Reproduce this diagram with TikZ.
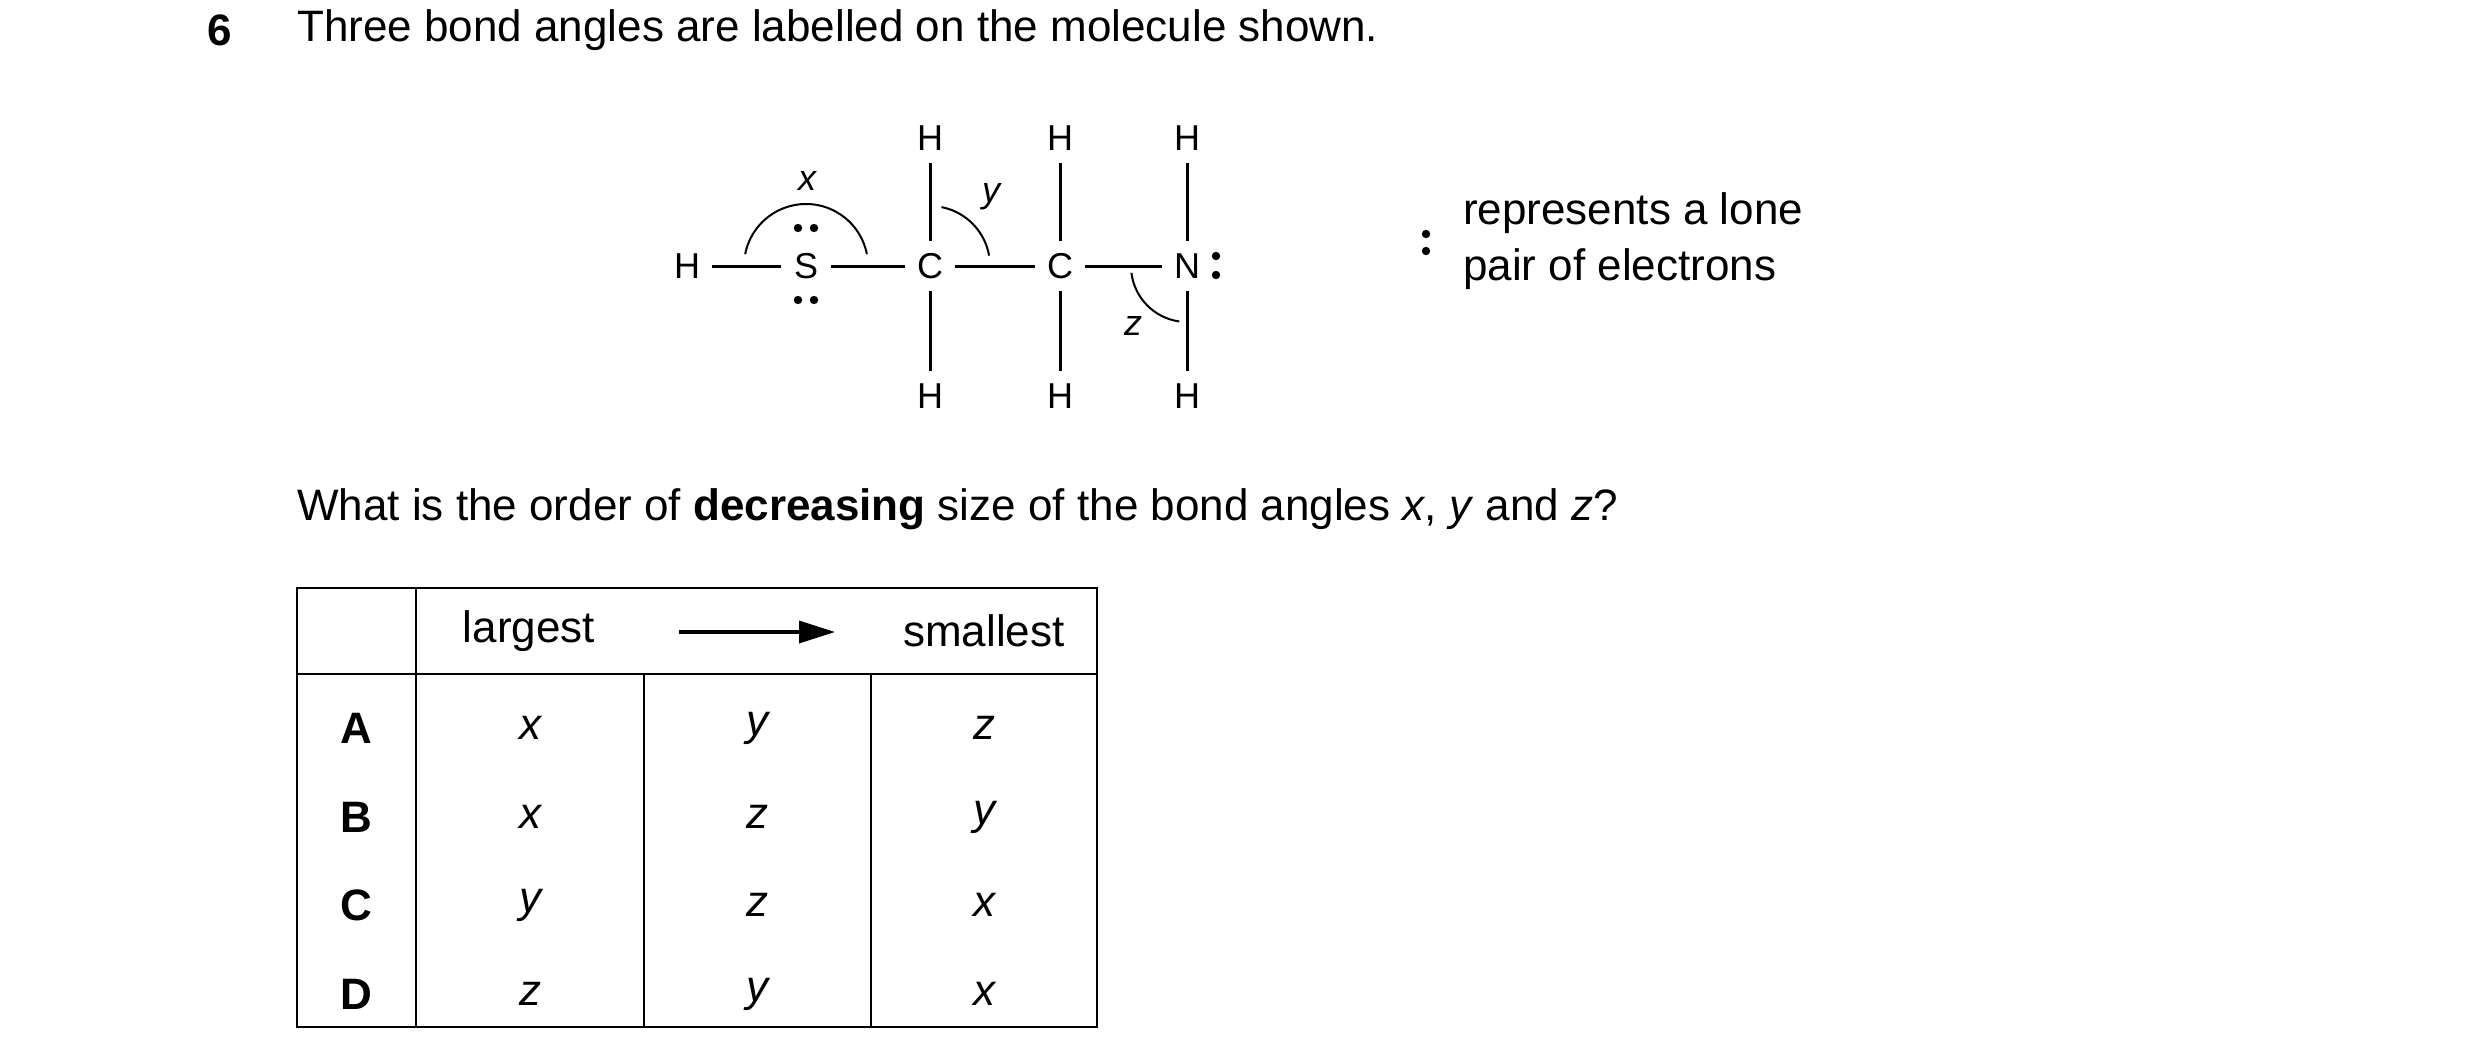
\documentclass[tikz,border=0pt]{standalone}
\usepackage{fontspec}
\setmainfont{Liberation Sans}
\usetikzlibrary{arrows.meta}
\begin{document}
\begin{tikzpicture}[x=1pt,y=-1pt,
  txt/.style={font=\fontsize{44}{52}\selectfont,inner sep=0pt},
  atom/.style={circle,minimum size=50pt,inner sep=0pt,font=\fontsize{36}{40}\selectfont},
  bond/.style={line width=3pt},
  ang/.style={line width=2pt},
  tab/.style={line width=2.2pt},
  dot/.style={fill=black,draw=none}]
\useasboundingbox (0,0) rectangle (2480,1063);
% title
\node[txt,font=\fontsize{44}{52}\selectfont\bfseries] (num) at (220,30) {6};
\node[txt,anchor=west] (title) at (297,30) {Three bond angles are labelled on the molecule shown.};
% molecule
\node[atom] (H0) at (687,266) {H};
\node[atom] (S) at (806,266) {S};
\node[atom] (C1) at (930,266) {C};
\node[atom] (C2) at (1060,266) {C};
\node[atom] (N) at (1187,266) {N};
\node[atom] (H1t) at (930,138) {H};
\node[atom] (H2t) at (1060,138) {H};
\node[atom] (H3t) at (1187,138) {H};
\node[atom] (H1b) at (930,396) {H};
\node[atom] (H2b) at (1060,396) {H};
\node[atom] (H3b) at (1187,396) {H};
\draw[bond] (H0) -- (S);
\draw[bond] (S) -- (C1);
\draw[bond] (C1) -- (C2);
\draw[bond] (C2) -- (N);
\draw[bond] (C1) -- (H1t);
\draw[bond] (C2) -- (H2t);
\draw[bond] (N) -- (H3t);
\draw[bond] (C1) -- (H1b);
\draw[bond] (C2) -- (H2b);
\draw[bond] (N) -- (H3b);
% lone pairs
\foreach \p in {(798,228),(814,228),(798,300),(814,300),(1216,256),(1216,275),(1426,234),(1426,251)}
  \fill[dot] \p circle (4.2);
% angle arcs
\draw[ang] ([shift={(-11:62)}]S.center) arc[start angle=-11,end angle=-169,radius=62];
\draw[ang] ([shift={(-10:60)}]C1.center) arc[start angle=-10,end angle=-79,radius=60];
\draw[ang] ([shift={(173:56)}]N.center) arc[start angle=173,end angle=98,radius=56];
\node[txt,font=\fontsize{36}{40}\selectfont\itshape] (lx) at (807,181) {x};
\node[txt,font=\fontsize{36}{40}\selectfont\itshape] (ly) at (991,197) {y};
\node[txt,font=\fontsize{36}{40}\selectfont\itshape] (lz) at (1133,326) {z};
% legend
\node[txt,anchor=west] (leg1) at (1463,213) {represents a lone};
\node[txt,anchor=west] (leg2) at (1463,269) {pair of electrons};
% question
\node[txt,anchor=west] (q) at (297,509) {What is the order of \textbf{decreasing} size of the bond angles \textit{x}, \textit{y} and \textit{z}?};
% table
\draw[tab] (297,588) rectangle (1097,1027);
\draw[tab] (297,674) -- (1097,674);
\draw[tab] (416,588) -- (416,1027);
\draw[tab] (644,674) -- (644,1027);
\draw[tab] (871,674) -- (871,1027);
\node[txt] (hl) at (529,631) {largest};
\node[txt] (hs) at (984,631) {smallest};
\coordinate (a1) at (679,632);
\coordinate (a2) at (835,632);
\draw[line width=3.5pt,-{Triangle[length=36pt,width=22pt]}] (a1) -- (a2);
\foreach \l/\a/\b/\c/\yy in {A/x/y/z/728,B/x/z/y/817,C/y/z/x/905,D/z/y/x/994}{
  \node[txt,font=\fontsize{44}{52}\selectfont\bfseries] (r\l) at (356,\yy) {\l};
  \node[txt,font=\fontsize{44}{52}\selectfont\itshape] (r\l1) at (530,\yy) {\vphantom{x}\a};
  \node[txt,font=\fontsize{44}{52}\selectfont\itshape] (r\l2) at (757,\yy) {\vphantom{x}\b};
  \node[txt,font=\fontsize{44}{52}\selectfont\itshape] (r\l3) at (984,\yy) {\vphantom{x}\c};
}
\end{tikzpicture}
\end{document}
